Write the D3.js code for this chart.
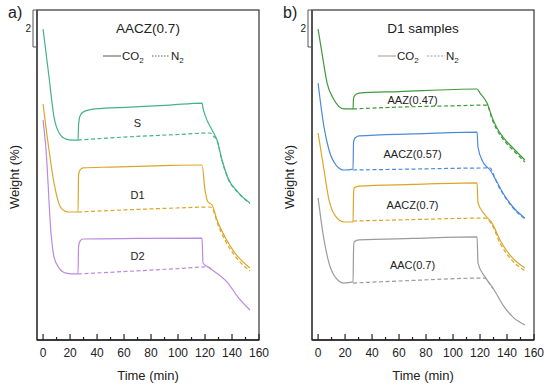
<!DOCTYPE html>
<html>
<head>
<meta charset="utf-8">
<script src="https://cdn.jsdelivr.net/npm/d3@7"></script>
<style>
  body { margin: 0; background: #fff; }
  text { font-family: "Liberation Sans", Arial, sans-serif; fill: #222; }
</style>
</head>
<body>
<div id="chart"></div>
<script>
// x ticks (min)
const xMajor = [0, 20, 40, 60, 80, 100, 120, 140, 160];
const xMinor = [10, 30, 50, 70, 90, 110, 130, 150];

// [time (min), relative weight (%)] -- curves are stacked, no absolute axis
// panel a) AACZ(0.7)
const S_CO2 = [[0,16.81],[4.4,14.22],[8.1,12.05],[11.9,11.19],[17.0,10.86],[22.2,10.81],[25.9,10.81],[26.3,11.62],[27.4,12.11],[29.6,12.32],[38.5,12.49],[64.4,12.59],[94.1,12.70],[117.8,12.81],[118.5,12.54],[120.0,12.16],[125.2,11.35],[128.9,10.81],[132.6,9.73],[137.0,8.76],[144.4,8.00],[153.3,7.41]];
const S_N2 = [[25.9,10.81],[60,10.97],[100,11.11],[123.7,11.19],[126.5,11.0],[128.9,10.78],[132.6,9.70],[137.0,8.73],[144.4,7.97],[153.3,7.38]];
const D1_CO2 = [[0,12.76],[4.4,10.27],[8.1,8.49],[13.3,7.14],[18.5,6.92],[25.9,6.92],[26.3,8.92],[27.4,9.19],[29.6,9.30],[50,9.35],[90,9.43],[117.8,9.46],[120.0,8.11],[122.2,7.46],[125.2,7.30],[128.9,6.49],[134.8,5.57],[142.2,4.70],[153.3,3.89]];
const D1_N2 = [[25.9,6.92],[60,7.03],[100,7.14],[123.7,7.19],[126.5,6.95],[128.9,6.38],[134.8,5.41],[142.2,4.54],[153.3,3.73]];
const D2_CO2 = [[0,11.89],[2.2,10.27],[5.9,5.78],[8.1,4.49],[11.9,3.89],[17.0,3.62],[24.4,3.57],[25.9,3.57],[26.3,5.05],[27.4,5.35],[29.6,5.46],[70,5.49],[117.8,5.51],[118.5,4.16],[122.2,3.95],[127.4,3.68],[137.0,3.08],[144.4,2.32],[153.3,1.62]];
const D2_N2 = [[25.9,3.57],[60,3.70],[100,3.86],[121.5,3.95],[124.5,3.85]];

// panel b) D1 samples
const AAZ047_CO2 = [[0,16.81],[3.7,15.14],[6.7,13.89],[11.1,13.08],[19.3,12.49],[25.9,12.49],[26.3,13.08],[27.4,13.24],[30.4,13.35],[60,13.43],[117.8,13.57],[120.0,13.35],[125.2,12.81],[128.9,12.05],[132.6,11.46],[137.0,10.97],[144.4,10.38],[153.3,9.73]];
const AAZ047_N2 = [[25.9,12.49],[60,12.59],[100,12.66],[125.2,12.70],[128.9,11.95],[132.6,11.35],[137.0,10.86],[144.4,10.27],[153.3,9.62]];
const AACZ057_CO2 = [[0,13.89],[4.4,11.51],[8.1,10.27],[13.3,9.46],[19.3,9.19],[25.9,9.24],[26.3,10.70],[27.4,10.92],[30.4,11.03],[70,11.14],[117.8,11.24],[118.5,10.43],[122.2,9.62],[127.4,9.19],[132.6,8.54],[137.0,7.95],[144.4,7.19],[153.3,6.59]];
const AACZ057_N2 = [[25.9,9.19],[70,9.24],[127.4,9.30],[130,8.95],[132.6,8.49],[137.0,7.90],[144.4,7.14],[153.3,6.54]];
const AACZ07_CO2 = [[0,11.19],[4.4,9.19],[8.1,7.57],[13.3,6.65],[19.3,6.38],[25.9,6.38],[26.3,7.90],[26.7,8.22],[30.4,8.32],[70,8.41],[117.8,8.49],[118.5,7.41],[123.7,6.76],[128.9,6.32],[134.8,5.41],[142.2,4.59],[153.3,3.89]];
const AACZ07_N2 = [[25.9,6.43],[70,6.51],[123.7,6.59],[128.9,6.22],[134.8,5.24],[142.2,4.43],[153.3,3.73]];
const AAC07_CO2 = [[0,7.68],[4.4,5.41],[8.1,4.16],[13.3,3.35],[19.3,3.08],[25.9,3.14],[26.3,4.90],[26.7,5.30],[30.4,5.41],[70,5.49],[117.8,5.57],[118.5,4.16],[123.7,3.41],[129.6,2.81],[137.0,1.89],[144.4,1.24],[153.3,0.81]];
const AAC07_N2 = [[25.9,3.08],[70,3.22],[123.7,3.35],[126.5,3.10],[129.6,2.78]];

const panels = [
  {
    left: 37, tag: "a)", title: "AACZ(0.7)", legendDash: "1.5,1.5", legendColor: "#555",
    series: [
      { co2: S_CO2, n2: S_N2, color: "#45b386", label: "S", at: [70, 11.7] },
      { co2: D1_CO2, n2: D1_N2, color: "#dba628", label: "D1", at: [70, 7.84] },
      { co2: D2_CO2, n2: D2_N2, color: "#b98be0", label: "D2", at: [70, 4.54] }
    ]
  },
  {
    left: 312, tag: "b)", title: "D1 samples", legendDash: "2,1.5", legendColor: "#999",
    series: [
      { co2: AAZ047_CO2, n2: AAZ047_N2, color: "#3f9a3a", label: "AAZ(0.47)", at: [70, 12.97] },
      { co2: AACZ057_CO2, n2: AACZ057_N2, color: "#4d8bd8", label: "AACZ(0.57)", at: [70, 10.05] },
      { co2: AACZ07_CO2, n2: AACZ07_N2, color: "#dba628", label: "AACZ(0.7)", at: [70, 7.3] },
      { co2: AAC07_CO2, n2: AAC07_N2, color: "#9b9b9b", label: "AAC(0.7)", at: [70, 4.05] }
    ]
  }
];

const W = 550, H = 386;
const topY = 10, bottomY = 340, plotW = 222;

const svg = d3.select("#chart").append("svg")
  .attr("width", W).attr("height", H);

const y = d3.scaleLinear().domain([0, 17.84]).range([bottomY, topY]);

panels.forEach(p => {
  const g = svg.append("g");
  const x = d3.scaleLinear().domain([-4.5, 160]).range([p.left, p.left + plotW]);

  const line = d3.line()
    .x(d => x(d[0]))
    .y(d => y(d[1]))
    .curve(d3.curveMonotoneX);

  // frame
  g.append("rect")
    .attr("x", p.left).attr("y", topY)
    .attr("width", plotW).attr("height", bottomY - topY)
    .attr("fill", "none").attr("stroke", "#333").attr("stroke-width", 1.2);
  g.append("line")
    .attr("x1", p.left).attr("x2", p.left).attr("y1", topY).attr("y2", bottomY)
    .attr("stroke", "#555").attr("stroke-width", 2);
  g.append("line")
    .attr("x1", p.left).attr("x2", p.left + plotW).attr("y1", bottomY).attr("y2", bottomY)
    .attr("stroke", "#222").attr("stroke-width", 1.6);

  // inward ticks
  g.selectAll(".maj").data(xMajor).join("line")
    .attr("x1", d => x(d)).attr("x2", d => x(d))
    .attr("y1", bottomY).attr("y2", bottomY - 6)
    .attr("stroke", "#222").attr("stroke-width", 1.2);
  g.selectAll(".min").data(xMinor).join("line")
    .attr("x1", d => x(d)).attr("x2", d => x(d))
    .attr("y1", bottomY).attr("y2", bottomY - 3)
    .attr("stroke", "#222").attr("stroke-width", 1.2);
  g.selectAll(".tl").data(xMajor).join("text")
    .attr("x", d => x(d)).attr("y", bottomY + 17)
    .attr("text-anchor", "middle").attr("font-size", 12)
    .text(d => d);

  g.append("text")
    .attr("x", p.left + plotW / 2).attr("y", bottomY + 40)
    .attr("text-anchor", "middle").attr("font-size", 13)
    .text("Time (min)");
  g.append("text")
    .attr("transform", `translate(${p.left - 18},${(topY + bottomY) / 2 + 2}) rotate(-90)`)
    .attr("text-anchor", "middle").attr("font-size", 13)
    .text("Weight (%)");

  // 2 % scale bar
  const sb = p.left - 4;
  g.append("path")
    .attr("d", `M${p.left},${y(17.84)}H${sb}V${y(15.84)}H${p.left}`)
    .attr("fill", "none").attr("stroke", "#555").attr("stroke-width", 1);
  g.append("text")
    .attr("x", sb - 2).attr("y", (y(17.84) + y(15.84)) / 2 + 4)
    .attr("text-anchor", "end").attr("font-size", 10)
    .text("2");

  g.append("text")
    .attr("x", p.left - 29).attr("y", 18)
    .attr("font-size", 16)
    .text(p.tag);

  // title + legend
  const cx = p.left + 111;
  g.append("text")
    .attr("x", cx).attr("y", 33)
    .attr("text-anchor", "middle").attr("font-size", 13.5)
    .text(p.title);

  const ly = 56;
  g.append("line")
    .attr("x1", cx - 45).attr("x2", cx - 27).attr("y1", ly).attr("y2", ly)
    .attr("stroke", p.legendColor).attr("stroke-width", 1);
  const t1 = g.append("text").attr("x", cx - 26).attr("y", ly + 4).attr("font-size", 11.5);
  t1.append("tspan").text("CO");
  t1.append("tspan").attr("font-size", 8).attr("dy", 3).text("2");
  g.append("line")
    .attr("x1", cx + 4).attr("x2", cx + 22).attr("y1", ly).attr("y2", ly)
    .attr("stroke", p.legendColor).attr("stroke-width", 1)
    .attr("stroke-dasharray", p.legendDash);
  const t2 = g.append("text").attr("x", cx + 23).attr("y", ly + 4).attr("font-size", 11.5);
  t2.append("tspan").text("N");
  t2.append("tspan").attr("font-size", 8).attr("dy", 3).text("2");

  // curves
  p.series.forEach(s => {
    g.append("path")
      .attr("d", line(s.n2))
      .attr("fill", "none").attr("stroke", s.color)
      .attr("stroke-width", 1.2).attr("stroke-dasharray", "4,2.5");
    g.append("path")
      .attr("d", line(s.co2))
      .attr("fill", "none").attr("stroke", s.color)
      .attr("stroke-width", 1.2);
    g.append("text")
      .attr("x", x(s.at[0])).attr("y", y(s.at[1]))
      .attr("dy", "0.35em")
      .attr("text-anchor", "middle").attr("font-size", 11)
      .text(s.label);
  });
});
</script>
</body>
</html>
